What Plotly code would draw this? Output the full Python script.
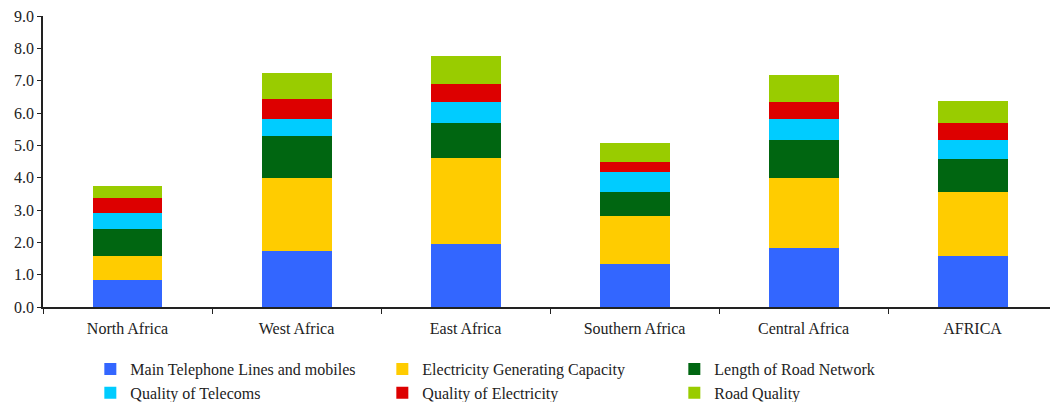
import plotly.graph_objects as go

categories = ["North Africa", "West Africa", "East Africa", "Southern Africa", "Central Africa", "AFRICA"]

series_names = [
    "Main Telephone Lines and mobiles",
    "Electricity Generating Capacity",
    "Length of Road Network",
    "Quality of Telecoms",
    "Quality of Electricity",
    "Road Quality",
]

telephone = [0.83, 1.72, 1.96, 1.34, 1.82, 1.57]
electricity_capacity = [0.74, 2.26, 2.64, 1.47, 2.16, 1.98]
road_length = [0.84, 1.32, 1.08, 0.75, 1.18, 1.04]
telecom_quality = [0.49, 0.51, 0.65, 0.61, 0.65, 0.57]
electricity_quality = [0.46, 0.61, 0.58, 0.32, 0.52, 0.52]
road_quality = [0.38, 0.81, 0.85, 0.57, 0.86, 0.70]

colors = ["#3366FF", "#FFCC00", "#006611", "#00CCFF", "#DD0000", "#99CC00"]

y_ticks = [0, 1, 2, 3, 4, 5, 6, 7, 8, 9]

values = [telephone, electricity_capacity, road_length, telecom_quality, electricity_quality, road_quality]

font_family = "Liberation Serif"

fig = go.Figure()
for name, vals, col in zip(series_names, values, colors):
    fig.add_trace(go.Bar(
        x=categories, y=vals, name=name,
        marker=dict(color=col, line=dict(width=0)),
    ))

fig.update_layout(
    width=1050, height=402,
    barmode="stack",
    bargap=0.586,
    plot_bgcolor="white",
    paper_bgcolor="white",
    margin=dict(l=43, r=0, t=16, b=95, autoexpand=False),
    font=dict(family=font_family, size=16, color="#222222"),
    showlegend=True,
    legend=dict(
        orientation="h",
        traceorder="normal",
        x=0.047, xanchor="left",
        y=-0.155, yanchor="top",
        entrywidth=247,
        entrywidthmode="pixels",
        font=dict(family=font_family, size=16, color="#222222"),
        itemwidth=30,
        tracegroupgap=0,
    ),
)

fig.update_xaxes(
    range=[-0.5, 5.458],
    showline=True, linecolor="#222222", linewidth=1.5,
    ticks="outside", tickson="boundaries", ticklen=5, tickcolor="#222222",
    showgrid=False, zeroline=False,
    tickfont=dict(family=font_family, size=16, color="#222222"),
    ticklabelstandoff=6,
    fixedrange=True,
)
fig.update_yaxes(
    range=[0, 9],
    tickvals=y_ticks,
    tickformat=".1f",
    showline=True, linecolor="#222222", linewidth=1.5,
    ticks="outside", ticklen=4, tickcolor="#222222",
    showgrid=False, zeroline=False,
    tickfont=dict(family=font_family, size=16, color="#222222"),
)

fig.write_html("out.html")
